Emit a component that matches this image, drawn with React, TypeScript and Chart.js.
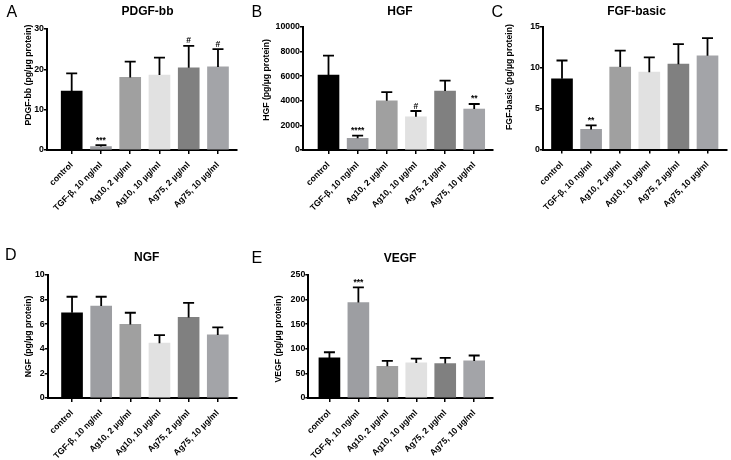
import React, { useEffect, useRef } from "react";
import { Chart, registerables } from "chart.js";

Chart.register(...registerables);

const FONT = '"Liberation Sans", Arial, Helvetica, sans-serif';

const categories = [
  "control",
  "TGF-β, 10 ng/ml",
  "Ag10, 2 µg/ml",
  "Ag10, 10 µg/ml",
  "Ag75, 2 µg/ml",
  "Ag75, 10 µg/ml",
];
const barColors = ["#000000", "#9d9ea2", "#a0a0a0", "#e1e1e1", "#808080", "#a3a4a8"];

const pdgfMeans = [14.6, 0.85, 18.0, 18.6, 20.4, 20.6];
const pdgfSD = [4.4, 0.35, 3.9, 4.3, 5.4, 4.4];
const pdgfSig = ["", "***", "", "", "#", "#"];
const pdgfTicks = [0, 10, 20, 30];

const hgfMeans = [6100, 950, 4000, 2700, 4800, 3330];
const hgfSD = [1570, 220, 700, 470, 840, 410];
const hgfSig = ["", "****", "", "#", "", "**"];
const hgfTicks = [0, 2000, 4000, 6000, 8000, 10000];

const fgfMeans = [8.65, 2.46, 10.1, 9.47, 10.45, 11.47];
const fgfSD = [2.25, 0.5, 2.0, 1.8, 2.45, 2.18];
const fgfSig = ["", "**", "", "", "", ""];
const fgfTicks = [0, 5, 10, 15];

const ngfMeans = [6.93, 7.47, 5.98, 4.46, 6.55, 5.13];
const ngfSD = [1.3, 0.76, 0.95, 0.65, 1.19, 0.61];
const ngfSig = ["", "", "", "", "", ""];
const ngfTicks = [0, 2, 4, 6, 8, 10];

const vegfMeans = [81.5, 194, 64.6, 71.3, 70, 75.4];
const vegfSD = [11.5, 31, 10.8, 8.9, 11.5, 11];
const vegfSig = ["", "***", "", "", "", ""];
const vegfTicks = [0, 50, 100, 150, 200, 250];

type PanelCfg = {
  letter: string;
  title: string;
  yTitle: string;
  means: number[];
  sd: number[];
  sig: string[];
  yTicks: number[];
  canvas: { x: number; y: number; w: number; h: number };
  area: { l: number; t: number; r: number; b: number };
  xMin: number;
  xMax: number;
  letterPos: [number, number];
  titlePos: [number, number];
  yTitlePos: [number, number];
};

const panels: PanelCfg[] = [
  {
    letter: "A", title: "PDGF-bb", yTitle: "PDGF-bb (pg/µg protein)",
    means: pdgfMeans, sd: pdgfSD, sig: pdgfSig, yTicks: pdgfTicks,
    canvas: { x: 0, y: 0, w: 245, h: 230 },
    area: { l: 47, t: 29, r: 237, b: 150 },
    xMin: -0.844, xMax: 5.65,
    letterPos: [6.5, 17], titlePos: [147.5, 15], yTitlePos: [29, 75],
  },
  {
    letter: "B", title: "HGF", yTitle: "HGF (pg/µg protein)",
    means: hgfMeans, sd: hgfSD, sig: hgfSig, yTicks: hgfTicks,
    canvas: { x: 245, y: 0, w: 255, h: 230 },
    area: { l: 303, t: 27, r: 493, b: 150 },
    xMin: -0.875, xMax: 5.645,
    letterPos: [251.5, 17], titlePos: [400, 15], yTitlePos: [267, 80],
  },
  {
    letter: "C", title: "FGF-basic", yTitle: "FGF-basic (pg/µg protein)",
    means: fgfMeans, sd: fgfSD, sig: fgfSig, yTicks: fgfTicks,
    canvas: { x: 487, y: 0, w: 244, h: 230 },
    area: { l: 543, t: 27, r: 727, b: 149.5 },
    xMin: -0.653, xMax: 5.67,
    letterPos: [491.5, 17], titlePos: [636.5, 15], yTitlePos: [510, 77],
  },
  {
    letter: "D", title: "NGF", yTitle: "NGF (pg/µg protein)",
    means: ngfMeans, sd: ngfSD, sig: ngfSig, yTicks: ngfTicks,
    canvas: { x: 0, y: 230, w: 245, h: 230 },
    area: { l: 47.7, t: 275, r: 237, b: 398 },
    xMin: -0.835, xMax: 5.66,
    letterPos: [5, 260], titlePos: [146.7, 261], yTitlePos: [29, 336.5],
  },
  {
    letter: "E", title: "VEGF", yTitle: "VEGF (pg/µg protein)",
    means: vegfMeans, sd: vegfSD, sig: vegfSig, yTicks: vegfTicks,
    canvas: { x: 245, y: 230, w: 255, h: 230 },
    area: { l: 308.3, t: 275, r: 492.7, b: 398 },
    xMin: -0.73, xMax: 5.64,
    letterPos: [251.5, 263], titlePos: [400, 261.5], yTitlePos: [278.5, 339],
  },
];

const AXW = 40;
const AXH = 60;

function Panel({ p }: { p: PanelCfg }) {
  const ref = useRef<HTMLCanvasElement>(null);

  useEffect(() => {
    const canvas = ref.current;
    if (!canvas) return;
    const c = p.canvas;
    const padLeft = p.area.l - c.x - AXW;
    const padTop = p.area.t - c.y;
    const padRight = c.x + c.w - p.area.r;
    const padBottom = c.y + c.h - p.area.b - AXH;

    const decor = {
      id: "decor" + p.letter,
      afterDatasetsDraw(chart: any) {
        const ctx = chart.ctx;
        const xs = chart.scales.x;
        const ys = chart.scales.y;
        ctx.save();
        ctx.strokeStyle = "#000";
        ctx.fillStyle = "#000";
        ctx.lineWidth = 1.8;
        p.means.forEach((m, i) => {
          const x = xs.getPixelForValue(i);
          const y0 = ys.getPixelForValue(m);
          const y1 = ys.getPixelForValue(m + p.sd[i]);
          ctx.beginPath();
          ctx.moveTo(x, y0);
          ctx.lineTo(x, y1 - 0.9);
          ctx.moveTo(x - 5.5, y1);
          ctx.lineTo(x + 5.5, y1);
          ctx.stroke();
          if (p.sig[i]) {
            ctx.font = `bold 8.5px ${FONT}`;
            ctx.textAlign = "center";
            ctx.textBaseline = "alphabetic";
            ctx.fillText(p.sig[i], x, y1 - 2.5);
          }
        });
        ctx.restore();
      },
      afterDraw(chart: any) {
        const ctx = chart.ctx;
        ctx.save();
        ctx.fillStyle = "#000";
        ctx.textBaseline = "alphabetic";
        ctx.font = `16px ${FONT}`;
        ctx.textAlign = "left";
        ctx.fillText(p.letter, p.letterPos[0] - c.x, p.letterPos[1] - c.y);
        ctx.font = `bold 12px ${FONT}`;
        ctx.textAlign = "center";
        ctx.fillText(p.title, p.titlePos[0] - c.x, p.titlePos[1] - c.y);
        ctx.translate(p.yTitlePos[0] - c.x, p.yTitlePos[1] - c.y);
        ctx.rotate(-Math.PI / 2);
        ctx.font = `bold 8.7px ${FONT}`;
        ctx.textAlign = "center";
        ctx.textBaseline = "middle";
        ctx.fillText(p.yTitle, 0, 0);
        ctx.restore();
      },
    };

    const xFont = { family: FONT, size: 8.6, weight: "bold" as const };
    const yFont = { family: FONT, size: 8.8, weight: "bold" as const };

    const chart = new Chart(canvas, {
      type: "bar",
      data: {
        datasets: [
          {
            data: p.means.map((v, i) => ({ x: i, y: v })),
            backgroundColor: barColors,
            borderWidth: 0,
            barThickness: 21,
          } as any,
        ],
      },
      options: {
        responsive: false,
        animation: false,
        devicePixelRatio: 1,
        layout: { padding: { left: padLeft, top: padTop, right: padRight, bottom: padBottom } },
        plugins: {
          legend: { display: false },
          tooltip: { enabled: false },
          title: { display: false },
        },
        scales: {
          x: {
            type: "linear",
            min: p.xMin,
            max: p.xMax,
            offset: false,
            z: 1,
            afterBuildTicks: (axis: any) => {
              axis.ticks = categories.map((_, i) => ({ value: i }));
            },
            afterFit: (axis: any) => {
              axis.height = AXH;
            },
            grid: {
              offset: false,
              drawOnChartArea: false,
              drawTicks: true,
              tickLength: 4,
              color: "#000",
              lineWidth: 1.5,
            },
            border: { display: true, color: "#000", width: 2 },
            ticks: {
              autoSkip: false,
              maxRotation: 45,
              minRotation: 45,
              padding: 6,
              color: "#000",
              font: xFont,
              callback: (v: any) => categories[Math.round(Number(v))] ?? "",
            },
          } as any,
          y: {
            type: "linear",
            min: 0,
            max: p.yTicks[p.yTicks.length - 1],
            z: 1,
            afterBuildTicks: (axis: any) => {
              axis.ticks = p.yTicks.map((v) => ({ value: v }));
            },
            afterFit: (axis: any) => {
              axis.width = AXW;
            },
            grid: {
              drawOnChartArea: false,
              drawTicks: true,
              tickLength: 3,
              color: "#000",
              lineWidth: 1.5,
            },
            border: { display: true, color: "#000", width: 2 },
            ticks: {
              padding: 0,
              color: "#000",
              font: yFont,
              callback: (v: any) => String(v),
            },
          } as any,
        },
      },
      plugins: [decor],
    });

    return () => chart.destroy();
  }, [p]);

  return (
    <canvas
      ref={ref}
      width={p.canvas.w}
      height={p.canvas.h}
      style={{
        position: "absolute",
        left: p.canvas.x,
        top: p.canvas.y,
        width: p.canvas.w,
        height: p.canvas.h,
      }}
    />
  );
}

export default function App() {
  return (
    <div
      style={{
        position: "absolute",
        left: 0,
        top: 0,
        width: 731,
        height: 460,
        background: "#ffffff",
        overflow: "hidden",
      }}
    >
      {panels.map((p) => (
        <Panel key={p.letter} p={p} />
      ))}
    </div>
  );
}
